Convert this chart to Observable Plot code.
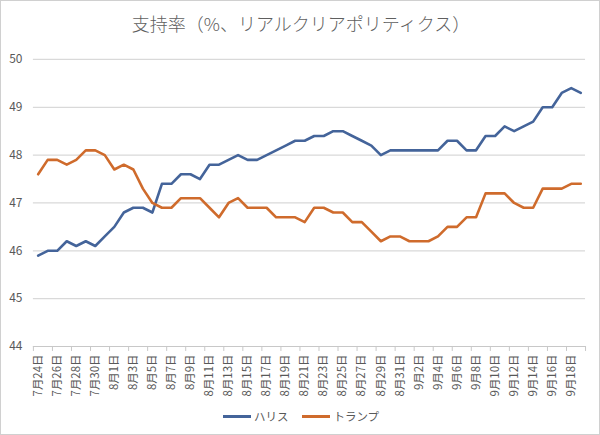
<!DOCTYPE html>
<html><head><meta charset="utf-8">
<script src="https://cdn.jsdelivr.net/npm/d3@7"></script>
<script src="https://cdn.jsdelivr.net/npm/@observablehq/plot@0.6"></script>
<style>
body{margin:0;background:#fff;font-family:"Noto Sans CJK JP","Noto Sans",sans-serif;}
#wrap{position:relative;width:600px;height:435px;box-sizing:border-box;border:1px solid #d0d0d0;overflow:hidden;}
#title{position:absolute;left:0;top:0;width:600px;text-align:center;font-size:18px;color:#5f5f5f;line-height:44px;height:44px;font-weight:300;}
#chart{position:absolute;left:-1px;top:43px;}
#legend{position:absolute;left:0;top:407px;width:600px;display:flex;justify-content:center;align-items:center;font-size:11.5px;color:#595959;}
.sw{display:inline-block;width:28px;height:3px;margin-right:3px;}
.item{display:flex;align-items:center;margin:0 7px;}
</style></head>
<body>
<div id="wrap">
<div id="title">支持率（%、リアルクリアポリティクス）</div>
<div id="chart"></div>
<div id="legend"></div>
</div>
<script>
const dates = [
"7月24日","7月25日","7月26日","7月27日","7月28日","7月29日","7月30日","7月31日",
"8月1日","8月2日","8月3日","8月4日","8月5日","8月6日","8月7日","8月8日","8月9日","8月10日",
"8月11日","8月12日","8月13日","8月14日","8月15日","8月16日","8月17日","8月18日","8月19日","8月20日",
"8月21日","8月22日","8月23日","8月24日","8月25日","8月26日","8月27日","8月28日","8月29日","8月30日","8月31日",
"9月1日","9月2日","9月3日","9月4日","9月5日","9月6日","9月7日","9月8日","9月9日","9月10日",
"9月11日","9月12日","9月13日","9月14日","9月15日","9月16日","9月17日","9月18日","9月19日"];
const harris = [45.9,46.0,46.0,46.2,46.1,46.2,46.1,46.3,
46.5,46.8,46.9,46.9,46.8,47.4,47.4,47.6,47.6,47.5,
47.8,47.8,47.9,48.0,47.9,47.9,48.0,48.1,48.2,48.3,
48.3,48.4,48.4,48.5,48.5,48.4,48.3,48.2,48.0,48.1,48.1,
48.1,48.1,48.1,48.1,48.3,48.3,48.1,48.1,48.4,48.4,
48.6,48.5,48.6,48.7,49.0,49.0,49.3,49.4,49.3];
const trump = [47.6,47.9,47.9,47.8,47.9,48.1,48.1,48.0,
47.7,47.8,47.7,47.3,47.0,46.9,46.9,47.1,47.1,47.1,
46.9,46.7,47.0,47.1,46.9,46.9,46.9,46.7,46.7,46.7,
46.6,46.9,46.9,46.8,46.8,46.6,46.6,46.4,46.2,46.3,46.3,
46.2,46.2,46.2,46.3,46.5,46.5,46.7,46.7,47.2,47.2,
47.2,47.0,46.9,46.9,47.3,47.3,47.3,47.4,47.4];
const seriesNames = ["ハリス","トランプ"];
const colors = ["#44649a","#cf6b2c"];
const yTicks = [44,45,46,47,48,49,50];

const rows = [];
dates.forEach((d,i)=>{
  rows.push({i, date:d, series:seriesNames[0], v:harris[i]});
  rows.push({i, date:d, series:seriesNames[1], v:trump[i]});
});
const labelIdx = dates.map((d,i)=>i).filter(i=>i%2===0);
const bounds = d3.range(-0.5, dates.length, 2);

const plot = Plot.plot({
  width: 601, height: 362,
  marginLeft: 33, marginRight: 14, marginTop: 15, marginBottom: 59,
  style:{fontFamily:'"Noto Sans CJK JP","Noto Sans",sans-serif', fontSize:"11px", color:"#595959", background:"transparent"},
  x:{type:"linear", domain:[-0.5, dates.length-0.5], label:null},
  y:{domain:[44,50], label:null},
  color:{domain:seriesNames, range:colors},
  marks:[
    Plot.gridY(yTicks.filter(t=>t>44), {stroke:"#d9d9d9", strokeOpacity:1, strokeWidth:1.2}),
    Plot.ruleY([44], {stroke:"#c8c8c8", strokeWidth:1.2}),
    Plot.axisX(bounds, {tickSize:5, tickFormat:()=>"", stroke:"#c8c8c8", strokeOpacity:1, label:null}),
    Plot.axisY(yTicks, {tickSize:0, tickPadding:11, fontSize:12, fill:"#595959", label:null}),
    Plot.axisX(labelIdx, {tickSize:0, tickPadding:8, tickRotate:-90, tickFormat:i=>dates[i], fontSize:11.5, fill:"#595959", label:null}),
    Plot.line(rows, {x:"i", y:"v", z:"series", stroke:"series", strokeWidth:2.6, curve:"linear"})
  ]
});
document.getElementById("chart").appendChild(plot);

const lg = document.getElementById("legend");
seriesNames.forEach((s,k)=>{
  const it = document.createElement("span"); it.className="item";
  const sw = document.createElement("span"); sw.className="sw"; sw.style.background=colors[k];
  it.appendChild(sw); it.appendChild(document.createTextNode(s));
  lg.appendChild(it);
});
</script>
</body></html>
